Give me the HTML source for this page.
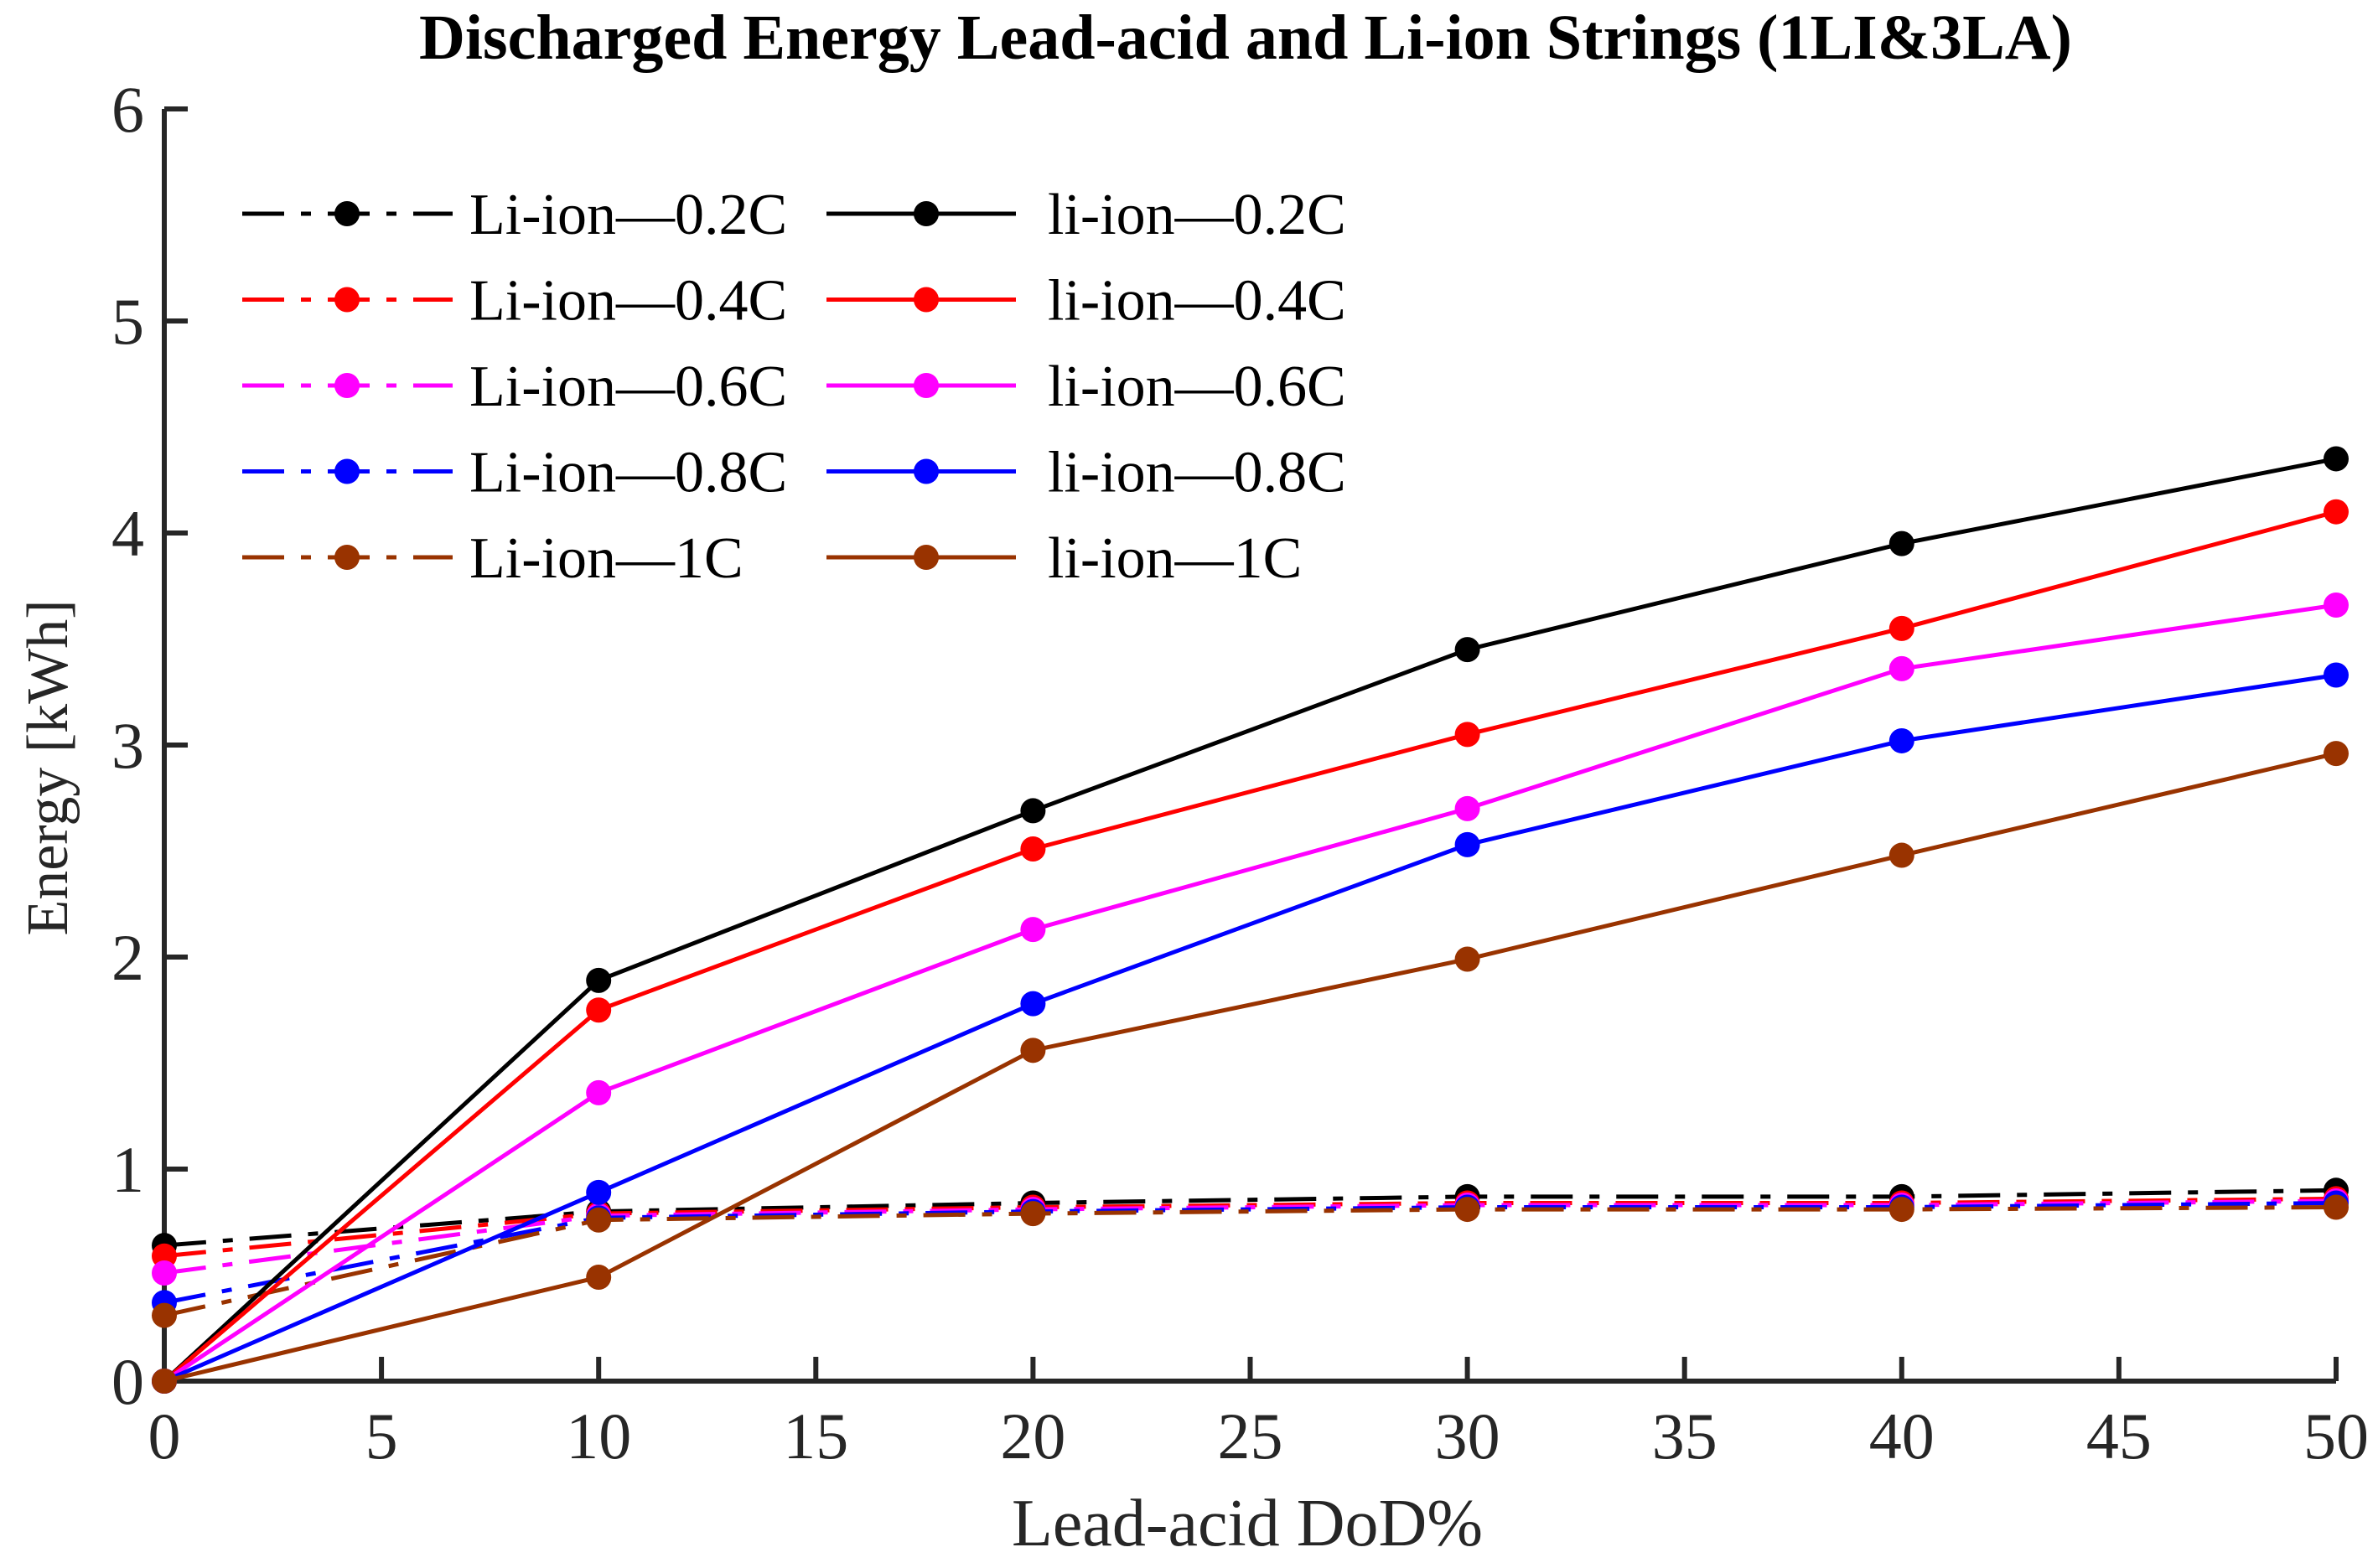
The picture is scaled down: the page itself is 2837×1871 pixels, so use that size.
<!DOCTYPE html>
<html><head><meta charset="utf-8"><style>
html,body{margin:0;padding:0;background:#fff;}
svg text{font-family:"Liberation Serif",serif;fill:#262626;}
</style></head><body>
<svg id="chart" width="2837" height="1866" viewBox="0 0 2837 1866" xmlns="http://www.w3.org/2000/svg">
<rect width="2837" height="1866" fill="#fff"/>
<text x="1486" y="70" text-anchor="middle" font-size="76" font-weight="bold" style="fill:#000">Discharged Energy Lead-acid and Li-ion Strings (1LI&amp;3LA)</text>
<text transform="translate(80,916) rotate(-90)" text-anchor="middle" font-size="70">Energy [kWh]</text>
<text x="1488" y="1844" text-anchor="middle" font-size="80">Lead-acid DoD%</text>
<g id="axes"></g>
<g id="series"></g>
<g id="legend"></g>
</svg>
<script>
const xValues = [0, 10, 20, 30, 40, 50];
const xTicks = [0,5,10,15,20,25,30,35,40,45,50];
const yTicks = [0,1,2,3,4,5,6];
const seriesNames = ["0.2C","0.4C","0.6C","0.8C","1C"];
const seriesColors = ["#000000","#ff0000","#ff00ff","#0000ff","#993300"];
const dashed02 = [0.64, 0.80, 0.84, 0.87, 0.87, 0.90];
const dashed04 = [0.59, 0.79, 0.82, 0.84, 0.84, 0.86];
const dashed06 = [0.51, 0.78, 0.81, 0.83, 0.83, 0.85];
const dashed08 = [0.37, 0.77, 0.80, 0.82, 0.82, 0.84];
const dashed1  = [0.31, 0.76, 0.79, 0.81, 0.81, 0.82];
const solid02 = [0, 1.89, 2.69, 3.45, 3.95, 4.35];
const solid04 = [0, 1.75, 2.51, 3.05, 3.55, 4.10];
const solid06 = [0, 1.36, 2.13, 2.70, 3.36, 3.66];
const solid08 = [0, 0.89, 1.78, 2.53, 3.02, 3.33];
const solid1  = [0, 0.49, 1.56, 1.99, 2.48, 2.96];

const NS="http://www.w3.org/2000/svg";
const X0=196,X1=2787,Y0=1648,Y1=130;
const xs=v=>X0+(v-0)/(50-0)*(X1-X0);
const ys=v=>Y0-(v-0)/(6-0)*(Y0-Y1);
function mk(tag,attrs,parent){const e=document.createElementNS(NS,tag);for(const k in attrs)e.setAttribute(k,attrs[k]);parent.appendChild(e);return e;}
const axes=document.getElementById('axes');
let p=mk('path',{d:`M${X0},${Y1} L${X0},${Y0} L${X1},${Y0}`,fill:'none',stroke:'#262626','stroke-width':6},axes);


xTicks.forEach(t=>{
  const l=mk('line',{x1:xs(t),x2:xs(t),y1:Y0,y2:Y0-29,stroke:'#262626','stroke-width':6},axes);
  
  
  const tx=mk('text',{x:xs(t),y:1740,'text-anchor':'middle','font-size':78},axes);
  tx.textContent=t;
  
  
});
yTicks.forEach(t=>{
  const l=mk('line',{x1:X0,x2:X0+28,y1:ys(t),y2:ys(t),stroke:'#262626','stroke-width':6},axes);
  
  
  const tx=mk('text',{x:172,y:ys(t)+27,'text-anchor':'end','font-size':78},axes);
  tx.textContent=t;
  
  
});
const dashedSets=[dashed02,dashed04,dashed06,dashed08,dashed1];
const solidSets=[solid02,solid04,solid06,solid08,solid1];
const ser=document.getElementById('series');
const DASH="50 20 12 20";
function drawSeries(vals,color,dashed,name){
  const g=mk('g',{},ser);
  
  
  const d=vals.map((v,i)=>(i?'L':'M')+xs(xValues[i])+','+ys(v)).join(' ');
  const attrs={d:d,fill:'none',stroke:color,'stroke-width':5};
  if(dashed)attrs['stroke-dasharray']=DASH;
  const pl=mk('path',attrs,g);
  
  
  vals.forEach((v,i)=>{
    const c=mk('circle',{cx:xs(xValues[i]),cy:ys(v),r:15,fill:color},g);
    
    
  });
}
dashedSets.forEach((s,i)=>drawSeries(s,seriesColors[i],true,'Li-ion-'+seriesNames[i].replace('.','')+'-dashed'));
solidSets.forEach((s,i)=>drawSeries(s,seriesColors[i],false,'li-ion-'+seriesNames[i].replace('.','')+'-solid'));
const leg=document.getElementById('legend');
seriesNames.forEach((n,i)=>{
  const y=255+i*102.5;
  [[289,540,414,560,'Li-ion',true],[986,1212,1105,1250,'li-ion',false]].forEach(c=>{
    const g=mk('g',{},leg);
    
    
    const a={x1:c[0],x2:c[1],y1:y,y2:y,stroke:seriesColors[i],'stroke-width':5};
    if(c[5])a['stroke-dasharray']=DASH;
    const l=mk('line',a,g);
    
    
    const m=mk('circle',{cx:c[2],cy:y,r:15,fill:seriesColors[i]},g);
    
    
    const t=mk('text',{x:c[3],y:y+24,'font-size':70,style:'fill:#000'},g);
    t.textContent=c[4]+'\u2014'+n;
    
    
  });
});
</script>
</body></html>
